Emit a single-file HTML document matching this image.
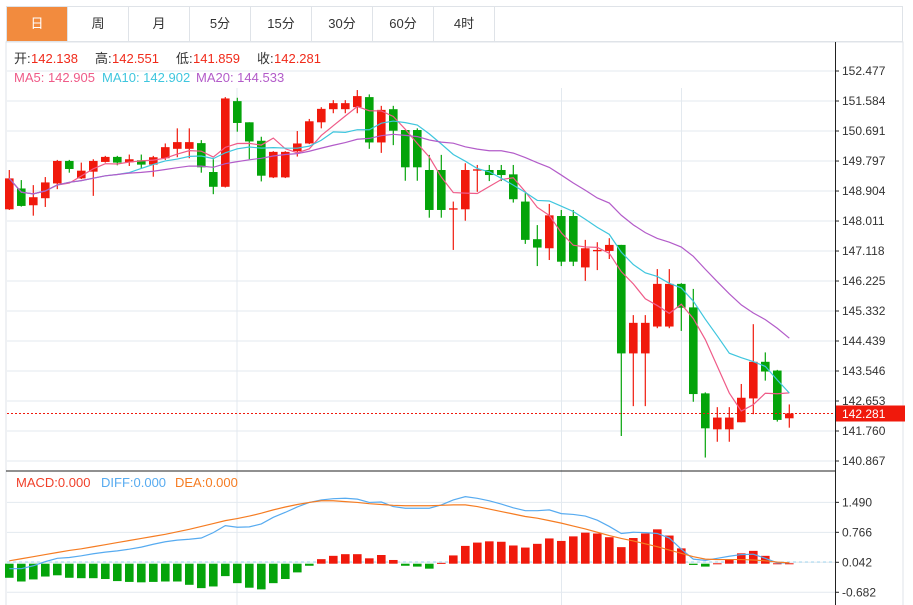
<!DOCTYPE html>
<html><head><meta charset="utf-8"><style>
body{margin:0;background:#fff;font-family:"Liberation Sans","Noto Sans CJK SC",sans-serif}
#wrap{position:relative;width:913px;height:605px;overflow:hidden}
.tabs{position:absolute;left:6px;top:6px;width:897px;height:36px;border:1px solid #dfe3e8;box-sizing:border-box;display:flex}
.tab{width:61px;height:100%;border-right:1px solid #dfe3e8;box-sizing:border-box;text-align:center;line-height:34px;font-size:13px;color:#333}
.tab.on{background:#f28b3e;color:#fff}
</style></head><body><div id="wrap">
<div class="tabs">
<div class="tab on">日</div>
<div class="tab">周</div>
<div class="tab">月</div>
<div class="tab">5分</div>
<div class="tab">15分</div>
<div class="tab">30分</div>
<div class="tab">60分</div>
<div class="tab">4时</div>
</div>
<svg id="svg" width="913" height="605" style="position:absolute;left:0;top:0"></svg>
</div>
<script>
const opens=[148.36,148.98,148.48,148.69,149.13,149.80,149.28,149.48,149.77,149.92,149.76,149.82,149.69,149.88,150.16,150.16,150.33,149.47,149.03,151.58,150.95,150.40,149.31,149.31,150.09,150.32,150.95,151.34,151.34,151.40,151.70,150.35,151.34,150.72,150.72,149.53,149.53,148.35,148.36,149.51,149.53,149.53,149.40,148.59,147.47,147.20,148.16,148.16,146.63,147.11,147.12,147.30,144.07,144.07,144.87,144.87,146.14,145.44,142.88,141.81,141.81,142.02,142.73,143.82,143.56,142.138];
const highs=[149.53,149.23,149.08,149.32,149.83,149.83,149.75,149.85,149.95,149.95,149.99,149.99,149.95,150.32,150.77,150.77,150.42,149.85,151.70,151.68,150.95,150.52,150.09,150.09,150.69,151.05,151.40,151.61,151.61,151.91,151.78,151.44,151.44,150.72,150.77,149.98,149.98,148.59,149.73,149.68,149.68,149.68,149.68,148.84,147.89,148.52,148.34,148.34,147.45,147.38,147.50,147.30,145.21,145.21,146.58,146.58,146.16,145.99,142.91,142.47,142.47,143.16,144.94,144.10,143.58,142.551];
const lows=[148.34,148.44,148.17,148.43,148.96,149.45,149.26,148.76,149.75,149.67,149.65,149.57,149.33,149.83,149.91,149.88,149.45,148.81,149.01,150.67,149.85,149.19,149.29,149.29,149.93,150.30,150.77,151.22,151.22,151.22,150.16,150.04,150.27,149.21,149.21,148.11,148.11,147.15,148.02,148.88,149.20,149.20,148.56,147.33,146.67,146.85,146.67,146.67,146.23,146.55,146.88,141.61,142.50,142.50,144.82,144.82,144.74,142.63,140.97,141.44,141.44,142.02,142.26,143.26,142.04,141.859];
const closes=[149.28,148.46,148.72,149.16,149.80,149.56,149.51,149.80,149.92,149.75,149.85,149.69,149.91,150.21,150.36,150.36,149.61,149.03,151.66,150.93,150.38,149.36,150.07,150.07,150.32,150.98,151.35,151.52,151.52,151.73,150.35,151.32,150.70,149.61,149.61,148.34,148.34,148.39,149.53,149.55,149.38,149.38,148.66,147.45,147.22,148.18,146.80,146.80,147.20,147.15,147.30,144.07,144.98,144.98,146.14,146.14,145.43,142.86,141.84,142.16,142.16,142.75,143.82,143.53,142.09,142.281];
const priceTicks=[152.477,151.584,150.691,149.797,148.904,148.011,147.118,146.225,145.332,144.439,143.546,142.653,141.760,140.867];
const macdHist=[-0.34,-0.43,-0.38,-0.31,-0.28,-0.34,-0.35,-0.35,-0.37,-0.42,-0.44,-0.45,-0.44,-0.43,-0.43,-0.51,-0.59,-0.55,-0.30,-0.47,-0.58,-0.62,-0.47,-0.37,-0.21,-0.05,0.11,0.19,0.23,0.23,0.13,0.21,0.09,-0.05,-0.07,-0.12,0.02,0.20,0.43,0.51,0.54,0.53,0.44,0.39,0.48,0.61,0.55,0.66,0.75,0.73,0.64,0.40,0.62,0.73,0.83,0.68,0.37,-0.03,-0.07,0.01,0.11,0.25,0.31,0.19,0.01,0.01];
const diffVals=[-0.12,-0.12,-0.05,0.05,0.13,0.15,0.19,0.24,0.28,0.31,0.35,0.40,0.47,0.53,0.57,0.59,0.62,0.75,0.92,0.88,0.89,0.96,1.12,1.24,1.37,1.48,1.54,1.57,1.58,1.56,1.48,1.49,1.38,1.34,1.34,1.34,1.42,1.54,1.62,1.58,1.52,1.44,1.35,1.28,1.28,1.30,1.21,1.19,1.15,1.05,0.90,0.73,0.76,0.75,0.73,0.62,0.35,0.11,0.08,0.13,0.18,0.22,0.23,0.13,0.02,0.02];
const deaVals=[0.07,0.12,0.17,0.22,0.27,0.32,0.36,0.41,0.46,0.51,0.56,0.61,0.66,0.71,0.77,0.83,0.90,0.97,1.04,1.09,1.15,1.22,1.30,1.37,1.43,1.48,1.52,1.52,1.50,1.48,1.45,1.43,1.41,1.40,1.40,1.40,1.41,1.42,1.42,1.38,1.32,1.26,1.20,1.14,1.10,1.04,0.98,0.91,0.84,0.76,0.68,0.61,0.55,0.48,0.41,0.33,0.25,0.17,0.11,0.10,0.10,0.10,0.09,0.07,0.04,0.02];
const macdTicks=[1.490,0.766,0.042,-0.682];

const NS='http://www.w3.org/2000/svg';
const svg=document.getElementById('svg');
function mk(tag,attrs,parent){const e=document.createElementNS(NS,tag);for(const k in attrs)e.setAttribute(k,attrs[k]);(parent||svg).appendChild(e);return e;}
const RED='#f0190c',GREEN='#04a40a';
const xOf=i=>9.3+12*i;
const pTop=152.477,pBot=140.867,yTop=71,yBot=461;
const yP=p=>yTop+(pTop-p)*(yBot-yTop)/(pTop-pBot);
const yM=v=>563.7-v*41.4;
const yTick=t=>562.3-(t-0.042)*41.4;

let g=mk('g',{});


mk('rect',{x:6,y:42,width:897,height:570,fill:'none',stroke:'#dfe3e8'},g);
priceTicks.forEach(t=>{mk('line',{x1:7,x2:835,y1:yP(t),y2:yP(t),stroke:'#e3e9ef'},g);});
macdTicks.forEach(t=>{mk('line',{x1:7,x2:835,y1:yTick(t),y2:yTick(t),stroke:'#e3e9ef'},g);});
[237,561.5,681.5].forEach(x=>{mk('line',{x1:x,x2:x,y1:88,y2:605,stroke:'#e3e9ef'},g);});
mk('line',{x1:6,x2:835,y1:471,y2:471,stroke:'#222'},g);
mk('line',{x1:835.5,x2:835.5,y1:42,y2:605,stroke:'#222'},g);

const ax=mk('g',{});


priceTicks.forEach(t=>{const y=yP(t);
 mk('line',{x1:835,x2:839,y1:y,y2:y,stroke:'#222'},ax);
 const tx=mk('text',{x:842,y:y+4,'font-size':12,fill:'#333'},ax);tx.textContent=t.toFixed(3);
 
 });
const mx=mk('g',{});


macdTicks.forEach(t=>{const y=yTick(t);
 mk('line',{x1:835,x2:839,y1:y,y2:y,stroke:'#222'},mx);
 const tx=mk('text',{x:842,y:y+4,'font-size':12,fill:'#333'},mx);tx.textContent=t.toFixed(3);
 
 });

const cg=mk('g',{});


closes.forEach((c,i)=>{const o=opens[i],up=c>=o,col=up?RED:GREEN,x=xOf(i);
 const k=mk('g',{},cg);
 
 
 mk('line',{x1:x,x2:x,y1:yP(highs[i]),y2:yP(lows[i]),stroke:col,'stroke-width':1.2},k);
 const t=Math.min(yP(o),yP(c)),h=Math.max(1.2,Math.abs(yP(o)-yP(c)));
 mk('rect',{x:x-4.3,y:t,width:8.6,height:h,fill:col},k);});

function ma(n){return closes.map((_,i)=>{const s=closes.slice(Math.max(0,i-n+1),i+1);return s.reduce((a,b)=>a+b,0)/s.length;});}
[[5,'#ef5b88','ma5-line'],[10,'#3fc6de','ma10-line'],[20,'#b35cc9','ma20-line']].forEach(([n,col,name])=>{
 const v=ma(n);const l=mk('polyline',{points:v.map((p,i)=>xOf(i)+','+yP(p)).join(' '),fill:'none',stroke:col,'stroke-width':1.2});
 
 });

const last=closes[closes.length-1];
const lp=mk('line',{x1:7,x2:835,y1:yP(last),y2:yP(last),stroke:RED,'stroke-dasharray':'2,2'});


const lb=mk('rect',{x:836,y:yP(last)-8,width:69,height:16,fill:RED});


const lt=mk('text',{x:842,y:yP(last)+4.5,'font-size':12,fill:'#fff'});lt.textContent=last.toFixed(3);



const zl=mk('line',{x1:7,x2:835,y1:562,y2:562,stroke:'#9fd3ee','stroke-dasharray':'3,3'});


const hg=mk('g',{});


macdHist.forEach((v,i)=>{const y0=yM(0),y1=yM(v);
 const r=mk('rect',{x:xOf(i)-4.3,y:Math.min(y0,y1),width:8.6,height:Math.max(1,Math.abs(y1-y0)),fill:v>=0?RED:GREEN},hg);
 
 });
[[diffVals,'#57abf0','diff-line'],[deaVals,'#f57c22','dea-line']].forEach(([arr,col,name])=>{
 const l=mk('polyline',{points:arr.map((v,i)=>xOf(i)+','+yM(v)).join(' '),fill:'none',stroke:col,'stroke-width':1.2});
 
 });

function txt(x,y,s,col,name){const t=mk('text',{x:x,y:y,'font-size':13,fill:col});t.textContent=s;
 
 return t;}
let xx=14;
[['开:',opens[65].toFixed(3),'open'],['高:',highs[65].toFixed(3),'high'],['低:',lows[65].toFixed(3),'low'],['收:',closes[65].toFixed(3),'close']].forEach(([lab,val,n])=>{
 txt(xx,63,lab,'#333','legend-'+n+'-label');txt(xx+17,63,val,'#f02a1a','legend-'+n+'-value');xx+=81;});
txt(14,82,'MA5: 142.905','#ef5b88','legend-ma5');
txt(102,82,'MA10: 142.902','#3fc6de','legend-ma10');
txt(196,82,'MA20: 144.533','#b35cc9','legend-ma20');
txt(16,487,'MACD:0.000','#f0402a','legend-macd');
txt(101,487,'DIFF:0.000','#57abf0','legend-diff');
txt(175,487,'DEA:0.000','#f57c22','legend-dea');
</script></body></html>
